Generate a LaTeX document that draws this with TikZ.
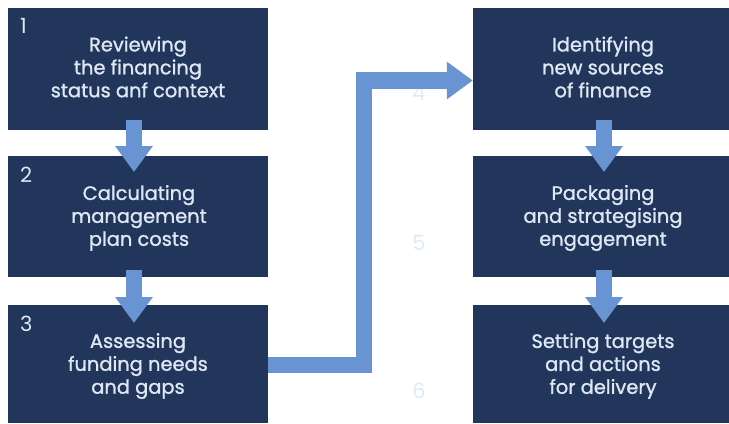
\documentclass[tikz,border=0pt]{standalone}
\usepackage{fontspec}
\setmainfont{Poppins}
\newfontfamily\medfont{Poppins}[FakeBold=1.2]
\usetikzlibrary{arrows.meta,calc}
\definecolor{boxblue}{HTML}{22365C}
\definecolor{txtblue}{HTML}{DDE8F3}
\definecolor{arrblue}{HTML}{6894D4}
\definecolor{faintblue}{HTML}{DCEBF7}
\tikzset{
  stepbox/.style={fill=boxblue, draw=none, inner sep=0pt, minimum width=260bp, align=center,
    text=txtblue, font=\medfont\fontsize{19.5}{23}\selectfont},
  numlbl/.style={anchor=base west, inner sep=0pt, text=txtblue, font=\fontsize{21}{21}\selectfont},
  faintnum/.style={anchor=base, inner sep=0pt, text=faintblue, font=\fontsize{21}{21}\selectfont},
  flowarrow/.style={draw=arrblue, line width=16.5bp, -{Triangle[width=36bp,length=26bp]}},
}
\begin{document}
\begin{tikzpicture}[x=1bp,y=-1bp]
\useasboundingbox (0,0) rectangle (729,423);
% left column
\node[stepbox, minimum height=122bp] (b1) at (138,69) {};
\node[stepbox, minimum height=121bp] (b2) at (138,216.5) {};
\node[stepbox, minimum height=118bp] (b3) at (138,364) {};
% right column
\node[stepbox, minimum height=122bp] (b4) at (603,69) {};
\node[stepbox, minimum height=121bp] (b5) at (603,216.5) {};
\node[stepbox, minimum height=118bp] (b6) at (603,364) {};
% texts
\node[stepbox, fill=none, minimum width=0pt] (t1) at (138,67) {Reviewing\\the financing\\status anf context};
\node[stepbox, fill=none, minimum width=0pt] (t2) at (139,218) {Calculating\\management\\plan costs};
\node[stepbox, fill=none, minimum width=0pt] (t3) at (138,366) {Assessing\\funding needs\\and gaps};
\node[stepbox, fill=none, minimum width=0pt] (t4) at (603,67) {Identifying\\new sources\\of finance};
\node[stepbox, fill=none, minimum width=0pt] (t5) at (603,218) {Packaging\\and strategising\\engagement};
\node[stepbox, fill=none, minimum width=0pt] (t6) at (603,366) {Setting targets\\and actions\\for delivery};
% numbers
\node[numlbl] (n1) at (20,33) {1};
\node[numlbl] (n2) at (20,182) {2};
\node[numlbl] (n3) at (20,331) {3};
\node[faintnum] (n4) at (419,100) {4};
\node[faintnum] (n5) at (419,250) {5};
\node[faintnum] (n6) at (419,398) {6};
% arrows
\coordinate (a1s) at (134,120);
\coordinate (a1e) at (134,172);
\coordinate (a2s) at (134,270);
\coordinate (a2e) at (134,323);
\coordinate (a4s) at (604,120);
\coordinate (a4e) at (604,172);
\coordinate (a5s) at (604,270);
\coordinate (a5e) at (604,323);
\draw[flowarrow] (a1s) -- (a1e);
\draw[flowarrow] (a2s) -- (a2e);
\draw[flowarrow] (a4s) -- (a4e);
\draw[flowarrow] (a5s) -- (a5e);
\draw[flowarrow] (b3.east |- 0,365) -- (364,365) -- (364,80.5) -- (b4.west |- 0,80.5);
\end{tikzpicture}
\end{document}
